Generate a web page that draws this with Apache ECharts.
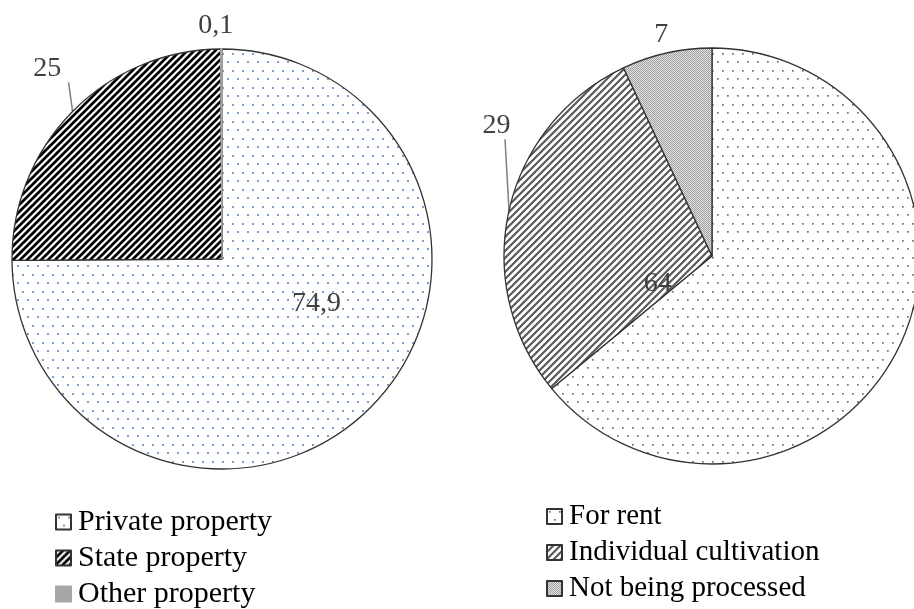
<!DOCTYPE html>
<html>
<head>
<meta charset="utf-8">
<script src="https://cdn.jsdelivr.net/npm/echarts@6/dist/echarts.min.js"></script>
<style>
  html, body { margin: 0; padding: 0; background: #fff; }
  #chart { width: 914px; height: 609px; }
</style>
</head>
<body>
<div id="chart"></div>
<script>
// ---- data ----
const leftCategories = ['Private property', 'State property', 'Other property'];
const leftValues = [74.9, 25, 0.1];
const rightCategories = ['For rent', 'Individual cultivation', 'Not being processed'];
const rightValues = [64, 29, 7];

// ---- patterns ----
function makeTile(w, h, draw) {
  const c = document.createElement('canvas');
  c.width = w; c.height = h;
  const ctx = c.getContext('2d');
  ctx.fillStyle = '#ffffff';
  ctx.fillRect(0, 0, w, h);
  draw(ctx, w, h);
  return { image: c, repeat: 'repeat' };
}
function dots(color, s) {
  return makeTile(10, 17, function (ctx) {
    ctx.fillStyle = color;
    ctx.fillRect(2, 2, s, s);
    ctx.fillRect(7, 10, s, s);
  });
}
function stripes(color, size, width) {
  return makeTile(size, size, function (ctx, w, h) {
    ctx.strokeStyle = color;
    ctx.lineWidth = width;
    ctx.beginPath();
    ctx.moveTo(-w, 2 * h); ctx.lineTo(2 * w, -h);
    ctx.moveTo(-2 * w, 2 * h); ctx.lineTo(w, -h);
    ctx.moveTo(0, 2 * h); ctx.lineTo(3 * w, -h);
    ctx.stroke();
  });
}
const stipple = makeTile(2, 2, function (ctx) {
  ctx.fillStyle = '#e2e2e2';
  ctx.fillRect(0, 0, 2, 2);
  ctx.fillStyle = '#a0a0a0';
  ctx.fillRect(0, 0, 1, 1);
  ctx.fillRect(1, 1, 1, 1);
});

const leftFills = [dots('#7f9bd2', 2), stripes('#000000', 7, 2.7), '#a6a6a6'];
const rightFills = [dots('#707070', 1.7), stripes('#5a5a5a', 7, 2.2), stipple];

// label offsets relative to library default positions (style only)
const leftShift = [[18, -31], [8, -29], [17, -3]];
const rightShift = [[-151, -18], [26, -81], [11, 1]];
const leftLine = [false, true, false];
const rightLine = [false, true, false];
const leftInside = [true, false, false];
const rightInside = [true, false, false];

const FONT = 'Liberation Serif, Times New Roman, serif';

function buildData(cats, vals, fills, inside, line) {
  return cats.map(function (name, i) {
    const isFlat = typeof fills[i] === 'string';
    return {
      name: name,
      value: vals[i],
      itemStyle: isFlat ? { color: fills[i], borderColor: fills[i] } : { color: fills[i] },
      label: { position: inside[i] ? 'inside' : 'outside' },
      labelLine: { show: line[i] }
    };
  });
}

function layoutFn(shift, line) {
  return function (p) {
    const s = shift[p.dataIndex];
    const res = { dx: s[0], dy: s[1] };
    if (line[p.dataIndex] && p.labelLinePoints) {
      const p0 = p.labelLinePoints[0];
      const bottom = p.labelRect.y + p.labelRect.height + s[1];
      res.labelLinePoints = [[p0[0], p0[1]], [p0[0] - 4, bottom]];
    }
    return res;
  };
}

const commonSeries = {
  type: 'pie',
  startAngle: 90,
  clockwise: true,
  avoidLabelOverlap: false,
  animation: false,
  emphasis: { disabled: true },
  itemStyle: { borderColor: '#333333', borderWidth: 1.3 },
  label: {
    show: true,
    fontFamily: FONT,
    fontSize: 28,
    color: '#404040',
    formatter: function (p) { return String(p.value).replace('.', ','); }
  },
  labelLine: { show: false, length: 20, length2: 0, lineStyle: { color: '#808080', width: 1.5 } }
};

const legendCommon = {
  orient: 'vertical',
  icon: 'rect',
  itemWidth: 15, itemHeight: 15, itemGap: 6,
  height: 140,
  selectedMode: false,
  textStyle: { fontFamily: FONT, fontSize: 30, color: '#000', padding: [0, 0, 0, 2] }
};

const chart = echarts.init(document.getElementById('chart'), null, { renderer: 'canvas' });
chart.setOption({
  backgroundColor: '#ffffff',
  animation: false,
  legend: [
    Object.assign({}, legendCommon, { data: leftCategories, left: 50, top: 502 }),
    Object.assign({}, legendCommon, { data: rightCategories, left: 541, top: 497,
      textStyle: { fontFamily: FONT, fontSize: 29, color: '#000', padding: [0, 0, 0, 2] }, itemGap: 7 })
  ],
  series: [
    Object.assign({}, commonSeries, {
      name: 'left',
      center: [222, 259],
      radius: 210,
      data: buildData(leftCategories, leftValues, leftFills, leftInside, leftLine),
      labelLayout: layoutFn(leftShift, leftLine)
    }),
    Object.assign({}, commonSeries, {
      name: 'right',
      center: [712, 256],
      radius: 208,
      data: buildData(rightCategories, rightValues, rightFills, rightInside, rightLine),
      labelLayout: layoutFn(rightShift, rightLine)
    })
  ]
});
</script>
</body>
</html>
